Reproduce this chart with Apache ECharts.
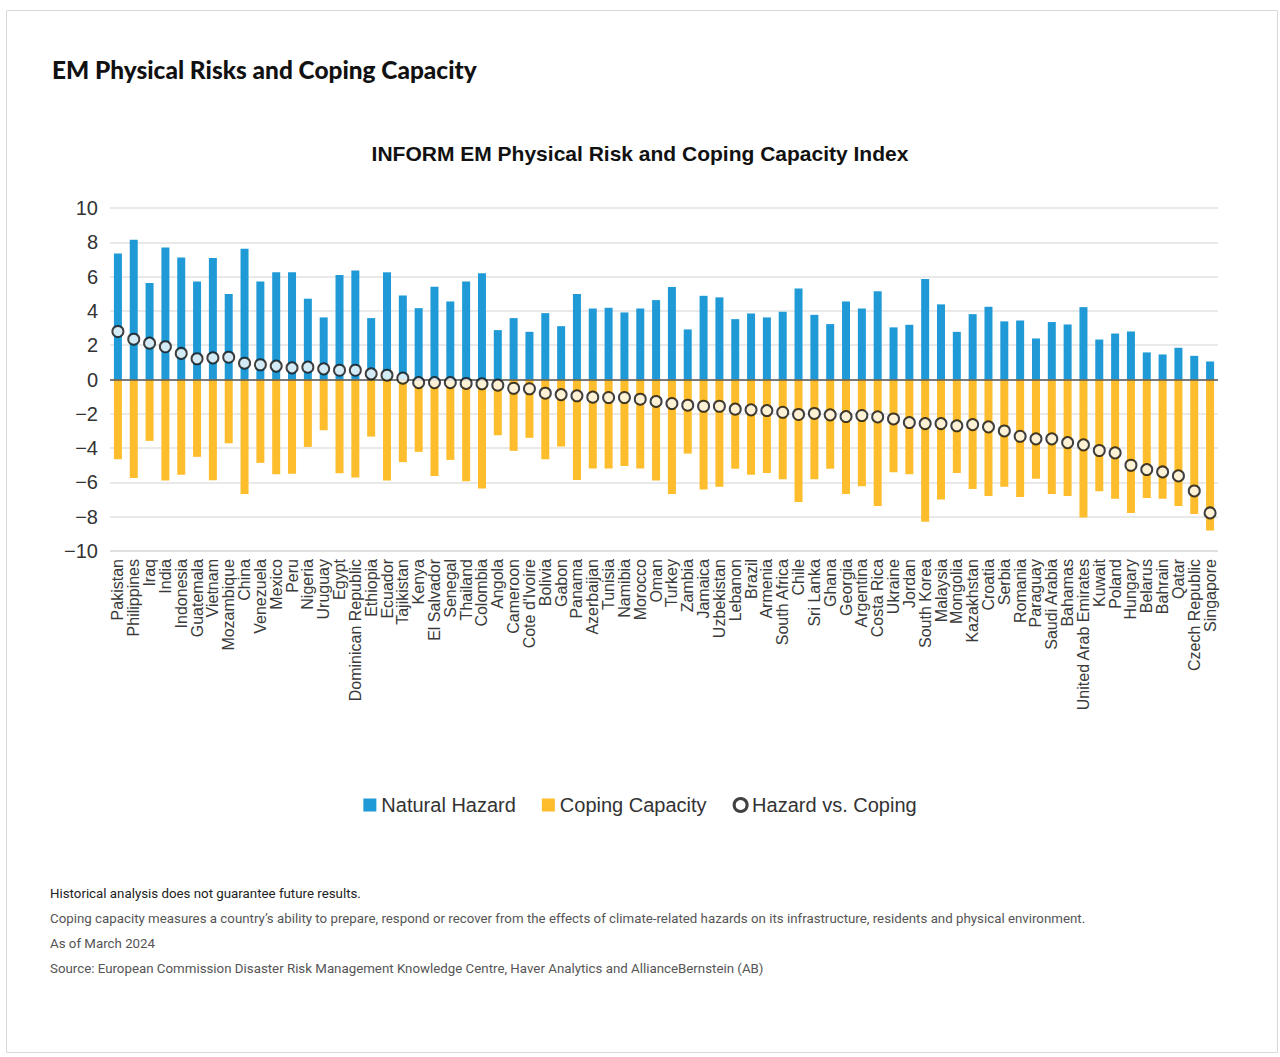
<!DOCTYPE html>
<html>
<head>
<meta charset="utf-8">
<script src="https://cdn.jsdelivr.net/npm/echarts@6/dist/echarts.min.js"></script>
<style>
html,body{margin:0;padding:0;background:#fff;}
#chart{width:1280px;height:1057px;}
</style>
</head>
<body>
<div id="chart"></div>
<script>
const countries = ["Pakistan","Philippines","Iraq","India","Indonesia","Guatemala","Vietnam","Mozambique","China","Venezuela","Mexico","Peru","Nigeria","Uruguay","Egypt","Dominican Republic","Ethiopia","Ecuador","Tajikistan","Kenya","El Salvador","Senegal","Thailand","Colombia","Angola","Cameroon","Cote d'Ivoire","Bolivia","Gabon","Panama","Azerbaijan","Tunisia","Namibia","Morocco","Oman","Turkey","Zambia","Jamaica","Uzbekistan","Lebanon","Brazil","Armenia","South Africa","Chile","Sri Lanka","Ghana","Georgia","Argentina","Costa Rica","Ukraine","Jordan","South Korea","Malaysia","Mongolia","Kazakhstan","Croatia","Serbia","Romania","Paraguay","Saudi Arabia","Bahamas","United Arab Emirates","Kuwait","Poland","Hungary","Belarus","Bahrain","Qatar","Czech Republic","Singapore"];

const naturalHazard = [7.35,8.15,5.62,7.70,7.12,5.72,7.08,4.98,7.63,5.72,6.26,6.26,4.71,3.62,6.09,6.36,3.58,6.25,4.90,4.16,5.41,4.55,5.72,6.19,2.88,3.58,2.78,3.87,3.11,4.98,4.14,4.18,3.91,4.14,4.63,5.39,2.92,4.88,4.79,3.52,3.85,3.62,3.95,5.31,3.77,3.23,4.55,4.14,5.14,3.04,3.19,5.86,4.38,2.78,3.81,4.24,3.39,3.44,2.39,3.35,3.21,4.22,2.33,2.68,2.80,1.58,1.46,1.85,1.38,1.05];

const copingCapacity = [-4.65,-5.74,-3.58,-5.89,-5.56,-4.51,-5.88,-3.72,-6.67,-4.86,-5.53,-5.49,-3.93,-2.96,-5.47,-5.72,-3.33,-5.89,-4.82,-4.22,-5.62,-4.69,-5.93,-6.36,-3.25,-4.16,-3.40,-4.65,-3.91,-5.86,-5.19,-5.19,-5.04,-5.19,-5.89,-6.67,-4.32,-6.42,-6.26,-5.21,-5.56,-5.45,-5.82,-7.14,-5.82,-5.21,-6.67,-6.23,-7.37,-5.41,-5.53,-8.29,-7.00,-5.45,-6.38,-6.79,-6.26,-6.85,-5.78,-6.67,-6.79,-8.04,-6.52,-6.95,-7.78,-6.91,-6.95,-7.37,-7.84,-8.81];

const hazardVsCoping = [2.80,2.35,2.12,1.91,1.52,1.21,1.26,1.30,0.95,0.86,0.78,0.68,0.72,0.62,0.54,0.54,0.33,0.25,0.08,-0.18,-0.18,-0.18,-0.23,-0.25,-0.33,-0.51,-0.54,-0.80,-0.88,-0.95,-1.03,-1.05,-1.05,-1.15,-1.28,-1.40,-1.50,-1.56,-1.56,-1.73,-1.77,-1.81,-1.91,-2.04,-1.98,-2.06,-2.16,-2.10,-2.18,-2.30,-2.51,-2.57,-2.57,-2.70,-2.63,-2.76,-3.00,-3.31,-3.46,-3.46,-3.68,-3.81,-4.14,-4.28,-5.00,-5.25,-5.39,-5.62,-6.50,-7.78];

const seriesNames = ["Natural Hazard","Coping Capacity","Hazard vs. Coping"];
const footnotes = [
  "Historical analysis does not guarantee future results.",
  "Coping capacity measures a country\u2019s ability to prepare, respond or recover from the effects of climate-related hazards on its infrastructure, residents and physical environment.",
  "As of March 2024",
  "Source: European Commission Disaster Risk Management Knowledge Centre, Haver Analytics and AllianceBernstein (AB)"
];

const chart = echarts.init(document.getElementById('chart'), null, {renderer: 'svg'});
const baseFont = 'Liberation Sans, Arial, sans-serif';

const option = {
  backgroundColor: '#fff',
  animation: false,
  title: [
    {text: 'EM Physical Risks and Coping Capacity', left: 47, top: 52,
     textStyle: {fontFamily: 'Lato, sans-serif', fontWeight: 900, fontSize: 24.4, color: '#111'}},
    {text: 'INFORM EM Physical Risk and Coping Capacity Index', left: 'center', top: 138,
     textStyle: {fontFamily: baseFont, fontWeight: 'bold', fontSize: 21, color: '#111'}}
  ],
  legend: {
    top: 790, left: 'center', itemGap: 26, itemWidth: 13, itemHeight: 13,
    textStyle: {fontFamily: baseFont, fontSize: 20, color: '#333'},
    data: [
      {name: seriesNames[0], icon: 'rect'},
      {name: seriesNames[1], icon: 'rect'},
      {name: seriesNames[2], icon: 'circle', itemStyle: {color: '#fff', borderColor: '#111', borderWidth: 3}}
    ]
  },
  grid: {left: 110, right: 62, top: 208, bottom: 506, containLabel: false},
  xAxis: {
    type: 'category', data: countries,
    axisLine: {show: false}, axisTick: {show: false},
    axisLabel: {rotate: 90, interval: 0, fontFamily: baseFont, fontSize: 16, color: '#3a3a3a', margin: 8}
  },
  yAxis: {
    type: 'value', min: -10, max: 10, interval: 2,
    axisLine: {show: false}, axisTick: {show: false},
    splitLine: {lineStyle: {color: '#e2e2e2', width: 1.5}},
    axisLabel: {fontFamily: baseFont, fontSize: 20, color: '#333', margin: 12,
      formatter: v => v < 0 ? '\u2212' + Math.abs(v) : String(v)}
  },
  series: [
    {name: seriesNames[0], type: 'bar', data: naturalHazard, barWidth: 8, barGap: '-100%',
     itemStyle: {color: '#1f9ad6'}},
    {name: seriesNames[1], type: 'bar', data: copingCapacity, barWidth: 8,
     itemStyle: {color: '#fdbd2c'},
     markLine: {silent: true, symbol: 'none', label: {show: false},
       lineStyle: {color: '#555', width: 1.5, type: 'solid'}, data: [{yAxis: 0}]}},
    {name: seriesNames[2], type: 'scatter', data: hazardVsCoping, symbol: 'circle', symbolSize: 11,
     itemStyle: {color: '#fff', borderColor: '#111', borderWidth: 2}, z: 5}
  ],
  graphic: [
    {type: 'rect', left: 4, top: 8, shape: {width: 1271, height: 1042},
     style: {fill: 'none', stroke: '#d9d9d9', lineWidth: 1}, silent: true},
    {type: 'line', shape: {x1: 110, y1: 551, x2: 1218, y2: 551}, style: {stroke: '#cfcfcf', lineWidth: 1.5}},
    ...footnotes.map((t, i) => ({
      type: 'text', left: 50, top: 887 + i * 25,
      style: {text: t, fontFamily: 'Roboto, sans-serif', fontSize: 13.3,
        fontWeight: 'normal', fill: i === 0 ? '#222' : '#555'}
    }))
  ]
};
chart.setOption(option);
</script>
</body>
</html>
